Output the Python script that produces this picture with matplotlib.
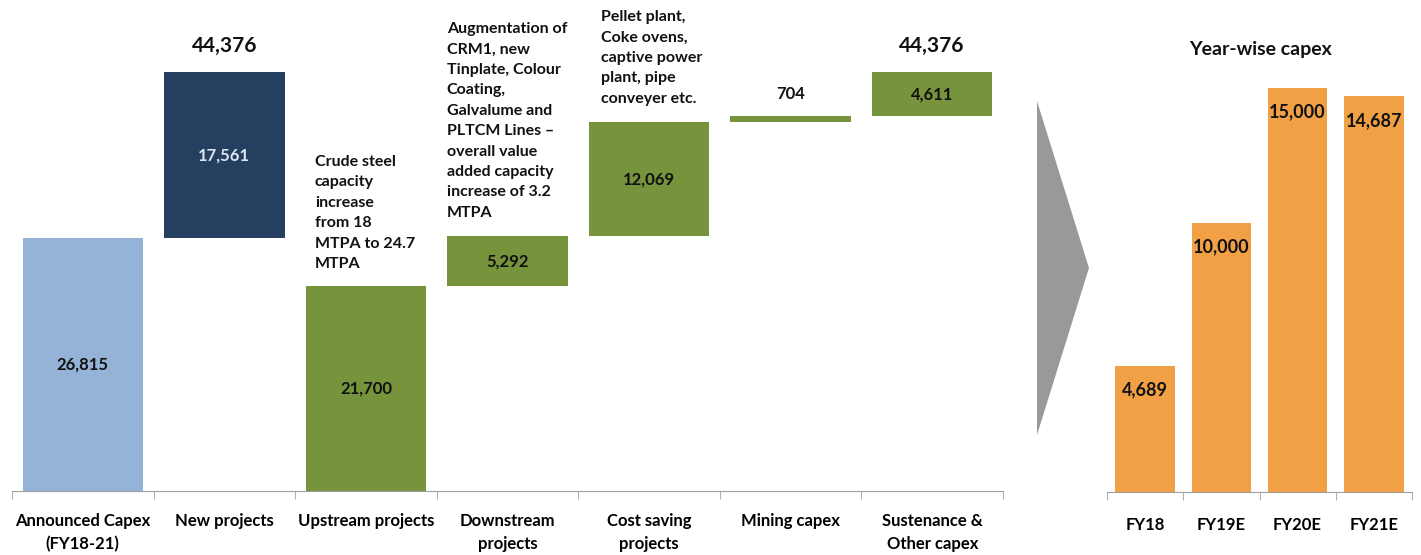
import numpy as np
import matplotlib
matplotlib.use("Agg")
import matplotlib.pyplot as plt
from matplotlib.patches import Polygon

plt.rcParams['font.family'] = ['Lato', 'DejaVu Sans']
plt.rcParams['font.weight'] = 'bold'

# waterfall data (Rs crore)
categories = ["Announced Capex\n(FY18-21)", "New projects", "Upstream projects",
              "Downstream\nprojects", "Cost saving\nprojects", "Mining capex",
              "Sustenance &\nOther capex"]
values = [26815, 17561, 21700, 5292, 12069, 704, 4611]
notes = ["", "",
         "Crude steel\ncapacity\nincrease\nfrom 18\nMTPA to 24.7\nMTPA",
         "Augmentation of\nCRM1, new\nTinplate, Colour\nCoating,\nGalvalume and\nPLTCM Lines \u2013\noverall value\nadded capacity\nincrease of 3.2\nMTPA",
         "Pellet plant,\nCoke ovens,\ncaptive power\nplant, pipe\nconveyer etc.",
         "", ""]
note_dx = [0, 0, 7, 0, 9, 0, 0]   # horizontal nudge of the notes, points
note_dy = [0, 0, 11, 12, 12, 0, 0]
bar_colors = ["#95B3D7", "#243F60", "#77933C", "#77933C", "#77933C", "#77933C", "#77933C"]
label_colors = ["#111111", "#DCE6F2", "#111111", "#111111", "#111111", "#111111", "#111111"]

# year-wise data
years = ["FY18", "FY19E", "FY20E", "FY21E"]
year_capex = [4689, 10000, 15000, 14687]

# bottoms: new projects stacked on announced, breakdown stacked from zero
breakdown = values[2:]
bottoms = [0, values[0]] + list(np.concatenate([[0], np.cumsum(breakdown)[:-1]]))
total = values[0] + values[1]

W, H = 1421, 555
fig = plt.figure(figsize=(W / 100, H / 100), dpi=100)

ax = fig.add_axes([12 / W, (H - 491) / H, 991 / W, 471 / H])
x = np.arange(len(categories))
ax.bar(x, values, bottom=bottoms, width=0.85, color=bar_colors)
ax.set_xlim(-0.5, len(categories) - 0.5)
ax.set_ylim(0, 471 / 0.009435)

for i, (v, b) in enumerate(zip(values, bottoms)):
    txt = f"{v:,}"
    if v < 2000:
        ax.annotate(txt, (i, b + v), xytext=(0, 10), textcoords='offset points',
                    ha='center', va='bottom', fontsize=12, color=label_colors[i])
    else:
        ax.text(i, b + v / 2, txt, ha='center', va='center', fontsize=12,
                color=label_colors[i])
    if notes[i]:
        ax.annotate(notes[i], (i - 0.43, b + v), xytext=(note_dx[i], note_dy[i]),
                    textcoords='offset points', ha='left', va='bottom',
                    fontsize=11.5, linespacing=1.58, color='#111111')

for i in [1, len(categories) - 1]:
    ax.annotate(f"{total:,}", (i, total), xytext=(0, 12), textcoords='offset points',
                ha='center', va='bottom', fontsize=15, color='#111111')

for s in ['top', 'right', 'left']:
    ax.spines[s].set_visible(False)
ax.spines['bottom'].set_color('#A0A0A0')
ax.set_yticks([])
ax.set_xticks(x)
ax.set_xticklabels(categories, fontsize=12, linespacing=1.5)
ax.set_xticks(np.arange(-0.5, len(categories)), minor=True)
ax.tick_params(axis='x', which='major', length=0, pad=16)
ax.tick_params(axis='x', which='minor', length=6, color='#A0A0A0')

# right panel
ax2 = fig.add_axes([1107 / W, (H - 492) / H, 305 / W, 432 / H])
xr = np.arange(len(years))
ax2.bar(xr, year_capex, width=0.78, color="#F2A046")
ax2.set_xlim(-0.5, len(years) - 0.5)
ax2.set_ylim(0, 432 / 0.02693)
for i, v in enumerate(year_capex):
    ax2.annotate(f"{v:,}", (i, v), xytext=(0, -11), textcoords='offset points',
                 ha='center', va='top', fontsize=13, color='#111111')
for s in ['top', 'right', 'left']:
    ax2.spines[s].set_visible(False)
ax2.spines['bottom'].set_color('#A0A0A0')
ax2.set_yticks([])
ax2.set_xticks(xr)
ax2.set_xticklabels(years, fontsize=12)
ax2.set_xticks(np.arange(-0.5, len(years)), minor=True)
ax2.tick_params(axis='x', which='major', length=0, pad=18)
ax2.tick_params(axis='x', which='minor', length=6, color='#A0A0A0')
fig.text(1261 / W, 1 - 50 / H, "Year-wise capex", ha='center', va='center',
         fontsize=14, color='#111111')

# grey arrow between panels
tri = Polygon([[1037 / W, 1 - 101 / H], [1089 / W, 1 - 268 / H], [1037 / W, 1 - 435 / H]],
              closed=True, transform=fig.transFigure, facecolor='#999999', edgecolor='none')
fig.patches.append(tri)

fig.savefig("out.png", dpi=100)
